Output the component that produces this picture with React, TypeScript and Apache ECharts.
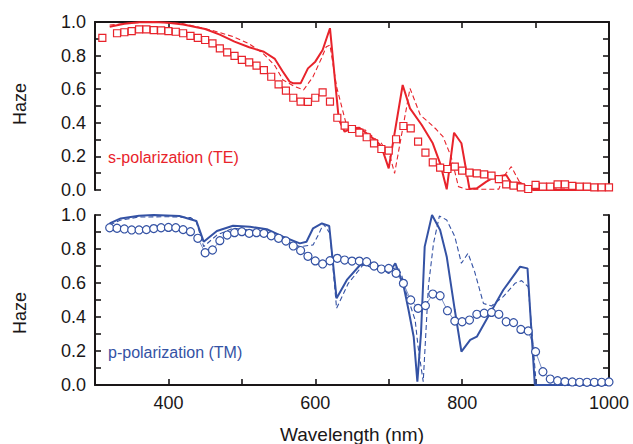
import React, { useEffect, useRef } from "react";
import * as echarts from "echarts";

// ---- Data ----
const teMeasX = [310, 330, 340, 350, 360, 370, 380, 390, 400, 410, 420, 430, 440, 450, 460, 470, 480, 490, 500, 510, 520, 530, 540, 550, 560, 570, 580, 590, 600, 610, 620, 630, 640, 650, 660, 670, 680, 690, 700, 710, 720, 730, 740, 750, 760, 770, 780, 790, 800, 810, 820, 830, 840, 850, 860, 870, 880, 890, 900, 910, 920, 930, 940, 950, 960, 970, 980, 990, 1000];
const teMeasY = [0.906, 0.933, 0.939, 0.946, 0.956, 0.956, 0.952, 0.95, 0.946, 0.942, 0.933, 0.918, 0.906, 0.893, 0.873, 0.843, 0.819, 0.798, 0.774, 0.76, 0.74, 0.714, 0.674, 0.629, 0.591, 0.549, 0.526, 0.524, 0.549, 0.581, 0.526, 0.43, 0.383, 0.363, 0.341, 0.314, 0.278, 0.244, 0.234, 0.302, 0.381, 0.367, 0.288, 0.222, 0.165, 0.133, 0.125, 0.139, 0.115, 0.103, 0.099, 0.093, 0.085, 0.065, 0.034, 0.026, 0.016, 0.006, 0.03, 0.02, 0.02, 0.034, 0.034, 0.024, 0.02, 0.02, 0.016, 0.016, 0.016];

const teSolidX = [320, 340, 360, 380, 400, 420, 450, 470, 490, 510, 530, 545, 555, 565, 570, 580, 590, 600, 610, 620, 632, 640, 650, 660, 670, 684, 690, 700, 719, 729, 745, 760, 770, 779, 789, 799, 810, 820, 833, 845, 860, 867, 879, 897, 1000];
const teSolidY = [0.972, 0.99, 0.998, 1.0, 0.996, 0.985, 0.958, 0.925, 0.883, 0.85, 0.823, 0.78, 0.71, 0.645, 0.635, 0.635, 0.724, 0.764, 0.833, 0.963, 0.42, 0.347, 0.367, 0.371, 0.337, 0.288, 0.258, 0.129, 0.625, 0.486, 0.387, 0.278, 0.159, 0.004, 0.341, 0.278, 0.006, 0.01, 0.05, 0.079, 0.089, 0.04, 0.043, 0.0, 0.0];

const teDashX = [320, 350, 380, 420, 430, 460, 488, 510, 529, 545, 556, 570, 584, 597, 608, 615, 620, 629, 643, 655, 668, 680, 690, 702, 708, 729, 743, 756, 765, 774, 785, 795, 806, 850, 856, 867, 879, 888, 1000];
const teDashY = [0.982, 0.995, 1.0, 0.99, 0.98, 0.95, 0.913, 0.87, 0.813, 0.74, 0.655, 0.62, 0.595, 0.675, 0.78, 0.853, 0.863, 0.615, 0.377, 0.36, 0.357, 0.31, 0.278, 0.198, 0.099, 0.605, 0.446, 0.397, 0.36, 0.317, 0.198, 0.02, 0.004, 0.005, 0.079, 0.139, 0.04, 0.01, 0.0];

const tmMeasX = [320, 330, 340, 350, 360, 370, 380, 390, 400, 410, 420, 430, 440, 450, 460, 470, 480, 490, 500, 510, 520, 530, 540, 550, 560, 570, 580, 590, 600, 610, 620, 630, 640, 650, 660, 670, 680, 690, 700, 710, 720, 730, 740, 750, 760, 770, 780, 790, 800, 810, 820, 830, 840, 850, 860, 870, 880, 890, 900, 910, 920, 930, 940, 950, 960, 970, 980, 990, 1000];
const tmMeasY = [0.925, 0.922, 0.918, 0.912, 0.912, 0.914, 0.92, 0.925, 0.927, 0.925, 0.914, 0.902, 0.863, 0.778, 0.794, 0.849, 0.882, 0.896, 0.902, 0.892, 0.896, 0.892, 0.878, 0.863, 0.847, 0.818, 0.791, 0.757, 0.73, 0.712, 0.731, 0.745, 0.735, 0.729, 0.729, 0.725, 0.7, 0.682, 0.686, 0.657, 0.598, 0.5, 0.451, 0.467, 0.535, 0.525, 0.437, 0.376, 0.372, 0.382, 0.416, 0.422, 0.427, 0.416, 0.372, 0.367, 0.327, 0.318, 0.196, 0.078, 0.035, 0.025, 0.02, 0.018, 0.016, 0.016, 0.016, 0.016, 0.018];

const tmSolidX = [320, 335, 360, 380, 415, 438, 448, 466, 488, 511, 534, 556, 579, 588, 597, 609, 619, 629, 643, 661, 679, 690, 700, 709, 720, 727, 734, 739, 744, 749, 759, 770, 779, 790, 799, 811, 820, 838, 856, 879, 889, 899, 1000];
const tmSolidY = [0.951, 0.98, 0.996, 1.0, 0.994, 0.965, 0.843, 0.906, 0.937, 0.931, 0.916, 0.873, 0.833, 0.843, 0.922, 0.951, 0.935, 0.51, 0.618, 0.706, 0.716, 0.69, 0.657, 0.716, 0.588, 0.441, 0.284, 0.02, 0.306, 0.814, 1.0, 0.912, 0.755, 0.441, 0.196, 0.265, 0.284, 0.422, 0.559, 0.696, 0.686, 0.0, 0.0];

const tmDashX = [320, 335, 360, 400, 430, 438, 448, 466, 488, 534, 556, 579, 597, 604, 611, 620, 629, 645, 665, 693, 713, 718, 724, 736, 740, 747, 754, 761, 769, 779, 790, 799, 808, 817, 829, 840, 856, 872, 881, 890, 901, 1000];
const tmDashY = [0.941, 0.97, 0.988, 0.99, 0.985, 0.961, 0.814, 0.882, 0.922, 0.902, 0.853, 0.814, 0.824, 0.882, 0.947, 0.892, 0.451, 0.598, 0.706, 0.676, 0.69, 0.64, 0.539, 0.382, 0.225, 0.02, 0.578, 0.833, 0.994, 0.971, 0.873, 0.716, 0.775, 0.667, 0.48, 0.465, 0.52, 0.598, 0.614, 0.578, 0.0, 0.0];

const xTicks = { min: 300, max: 1000, interval: 100 };
const yTicks = { min: 0, max: 1, interval: 0.1 };

const RED = "#e8232b";
const BLUE = "#3452a4";
const INK = "#1a1718";
const FONT = "Liberation Sans, Arial, sans-serif";

const zip = (xs: number[], ys: number[]) => xs.map((x, i) => [x, ys[i]]);

export default function App() {
  const ref = useRef<HTMLDivElement>(null);

  useEffect(() => {
    if (!ref.current) return;
    const chart = echarts.init(ref.current, null, { renderer: "svg" });

    const mkLine = () => ({ show: true, onZero: false, lineStyle: { color: INK, width: 2, opacity: 1 } });
    const mkTick = () => ({ show: true, inside: true, length: 6, lineStyle: { color: INK, width: 1.6, opacity: 1 } });
    const xLabelFmt = (v: number) => (Math.round(v) % 200 === 0 ? String(Math.round(v)) : "");
    const yLabelFmt = (v: number) => (Math.round(v * 10) % 2 === 0 ? v.toFixed(1) : "");
    const mkLabel = (fmt: (v: number) => string) => ({
      show: true, formatter: fmt, color: INK, fontSize: 18, margin: 9, fontFamily: FONT,
    });

    const mkX = (gridIndex: number, position: string, label: boolean) => ({
      type: "value",
      gridIndex,
      position,
      ...xTicks,
      splitLine: { show: false },
      axisLine: mkLine(),
      axisTick: mkTick(),
      axisLabel: label ? mkLabel(xLabelFmt) : { show: false },
    });
    const mkY = (gridIndex: number, position: string, label: boolean) => ({
      type: "value",
      gridIndex,
      position,
      ...yTicks,
      splitLine: { show: false },
      axisLine: mkLine(),
      axisTick: mkTick(),
      axisLabel: label ? mkLabel(yLabelFmt) : { show: false },
    });

    const lineSeries = (
      name: string, xs: number[], ys: number[], color: string, dashed: boolean,
      xi: number, yi: number, width: number
    ) => ({
      name,
      type: "line",
      xAxisIndex: xi,
      yAxisIndex: yi,
      data: zip(xs, ys),
      showSymbol: false,
      symbol: "none",
      lineStyle: { color, width, type: dashed ? [5, 3] : "solid" },
      itemStyle: { color },
      z: 3,
    });

    const markSeries = (
      name: string, xs: number[], ys: number[], color: string, symbol: string,
      xi: number, yi: number, connect: boolean
    ) => ({
      name,
      type: "line",
      xAxisIndex: xi,
      yAxisIndex: yi,
      data: zip(xs, ys),
      symbol,
      symbolSize: symbol === "rect" ? 7 : 8,
      showSymbol: true,
      lineStyle: { color, width: connect ? 0.8 : 0, opacity: connect ? 0.8 : 0 },
      itemStyle: { color: "#ffffff", borderColor: color, borderWidth: 1.2 },
      z: 4,
    });

    chart.setOption({
      animation: false,
      backgroundColor: "#ffffff",
      textStyle: { fontFamily: FONT },
      grid: [
        { left: 95, right: 24, top: 22, height: 168 },
        { left: 95, right: 24, top: 215, height: 170 },
      ],
      xAxis: [mkX(0, "top", false), mkX(1, "bottom", true)],
      yAxis: [mkY(0, "left", true), mkY(0, "right", false), mkY(1, "left", true), mkY(1, "right", false)],
      series: [
        lineSeries("TE simulation", teSolidX, teSolidY, RED, false, 0, 0, 2),
        lineSeries("TE simulation 2", teDashX, teDashY, RED, true, 0, 0, 1.1),
        markSeries("TE measured", teMeasX, teMeasY, RED, "rect", 0, 0, false),
        lineSeries("TM simulation", tmSolidX, tmSolidY, BLUE, false, 1, 2, 2),
        lineSeries("TM simulation 2", tmDashX, tmDashY, BLUE, true, 1, 2, 1.1),
        markSeries("TM measured", tmMeasX, tmMeasY, BLUE, "circle", 1, 2, true),
      ],
      graphic: [
        {
          type: "text", x: 20, y: 104, rotation: Math.PI / 2,
          style: { text: "Haze", fill: INK, font: `18px ${FONT}`, align: "center", verticalAlign: "middle" },
        },
        {
          type: "text", x: 20, y: 313, rotation: Math.PI / 2,
          style: { text: "Haze", fill: INK, font: `18px ${FONT}`, align: "center", verticalAlign: "middle" },
        },
        {
          type: "text", x: 352, y: 434,
          style: { text: "Wavelength (nm)", fill: INK, font: `19px ${FONT}`, align: "center", verticalAlign: "middle" },
        },
        {
          type: "text", x: 108, y: 157,
          style: { text: "s-polarization (TE)", fill: RED, font: `16px ${FONT}`, align: "left", verticalAlign: "middle" },
        },
        {
          type: "text", x: 108, y: 352,
          style: { text: "p-polarization (TM)", fill: BLUE, font: `16px ${FONT}`, align: "left", verticalAlign: "middle" },
        },
      ],
    });

    return () => chart.dispose();
  }, []);

  return (
    <div
      ref={ref}
      style={{ position: "absolute", left: 0, top: 0, width: 633, height: 444 }}
    />
  );
}
